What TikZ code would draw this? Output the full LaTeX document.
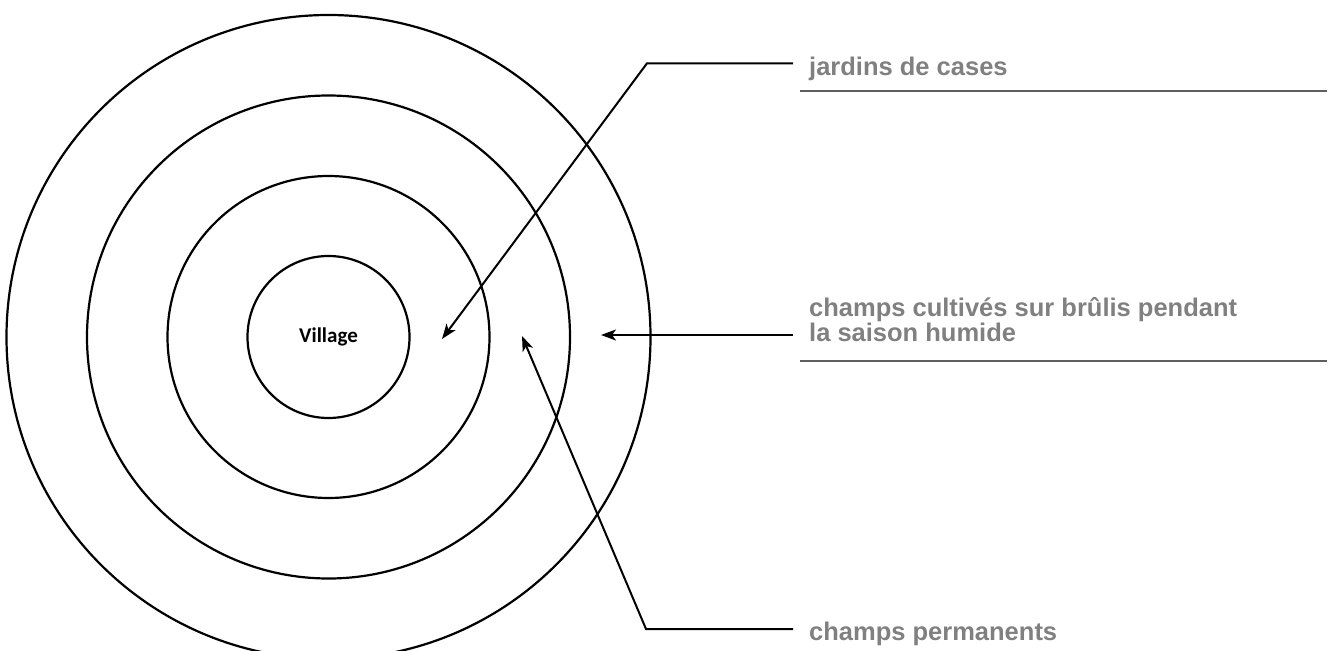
\documentclass[tikz,border=0pt]{standalone}
\usepackage{fontspec}
\setmainfont{Liberation Sans}
\newfontfamily\villagefont{Carlito}
\usetikzlibrary{arrows.meta}
\definecolor{labelgray}{RGB}{128,128,128}
\definecolor{rulegray}{RGB}{95,95,95}
\begin{document}
\begin{tikzpicture}[x=1pt,y=-1pt,
  ring/.style={circle,draw=black,line width=2.2pt,inner sep=0pt,outer sep=0pt},
  pointer/.style={draw=black,line width=2pt,line join=miter,-{Stealth[length=15pt,width=11pt,inset=4pt]}},
  labeltext/.style={text=labelgray,font=\fontsize{25.5}{21}\selectfont\bfseries,inner sep=0pt,anchor=base west,align=left},
  underline/.style={draw=rulegray,line width=2pt}]
\useasboundingbox (0,0) rectangle (1332,650);
\clip (0,0) rectangle (1332,650);
% concentric rings
\node[ring,minimum size=644pt] (r4) at (328.5,337) {};
\node[ring,minimum size=483pt] (r3) at (328.5,337) {};
\node[ring,minimum size=322pt] (r2) at (328.5,337) {};
\node[ring,minimum size=162pt] (r1) at (328.5,337) {};
\node[font=\villagefont\bfseries\fontsize{21}{22}\selectfont,inner sep=0pt] (village) at (328.5,337) {Village};
% labels
\node[labeltext] (jlab) at (809,76) {jardins de cases};
\node[labeltext] (clab) at (809,341) {champs cultivés sur brûlis pendant\\[0pt]la saison humide};
\node[labeltext] (plab) at (809,640) {champs permanents};
% underlines
\coordinate (ju1) at (800,90.7); \coordinate (ju2) at (1327,90.7);
\coordinate (cu1) at (800,361); \coordinate (cu2) at (1327,361);
\draw[underline] (ju1) -- (ju2);
\draw[underline] (cu1) -- (cu2);
% pointers
\coordinate (jend) at (793,63.3); \coordinate (jbend) at (647,63.3); \coordinate (jtip) at (442,339);
\coordinate (cend) at (793,335); \coordinate (ctip) at (601,335);
\coordinate (pend) at (793,629); \coordinate (pbend) at (646,629); \coordinate (ptip) at (522,336);
\draw[pointer] (jend) -- (jbend) -- (jtip);
\draw[pointer] (cend) -- (ctip);
\draw[pointer] (pend) -- (pbend) -- (ptip);
\end{tikzpicture}
\end{document}
